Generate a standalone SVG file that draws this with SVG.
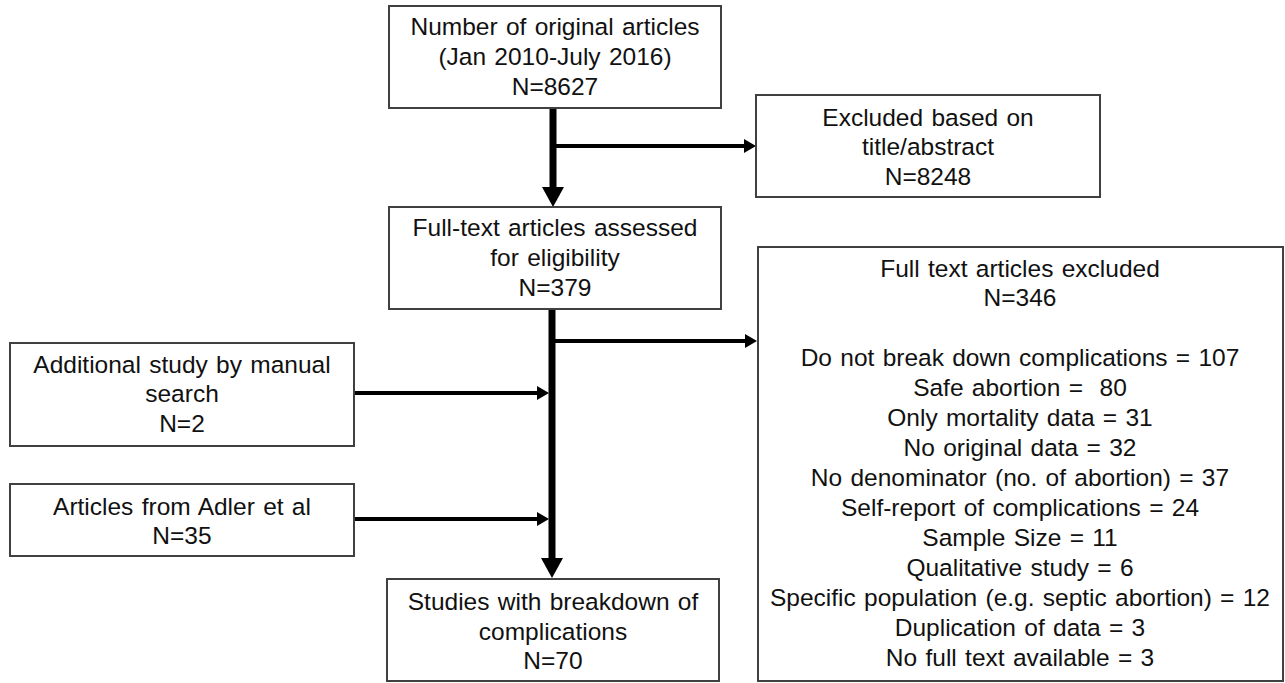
<svg xmlns="http://www.w3.org/2000/svg" width="1285" height="683" viewBox="0 0 1285 683">
  <style>
    .box { fill: #ffffff; stroke: #404040; stroke-width: 2; }
    .t { font-family: "Liberation Sans", Arial, sans-serif; font-size: 24.5px; word-spacing: 1.5px; fill: #111111; text-anchor: middle; }
    .thick { stroke: #000000; stroke-width: 7; fill: none; }
    .thin { stroke: #000000; stroke-width: 4; fill: none; }
  </style>
  <defs>
    <marker id="bigArrow" markerUnits="userSpaceOnUse" markerWidth="20" markerHeight="22" refX="0" refY="11" orient="auto">
      <path d="M0,0 L20,11 L0,22 z" fill="#000000"/>
    </marker>
    <marker id="smallArrow" markerUnits="userSpaceOnUse" markerWidth="12" markerHeight="14" refX="0" refY="7" orient="auto">
      <path d="M0,0 L12,7 L0,14 z" fill="#000000"/>
    </marker>
  </defs>
  <rect width="1285" height="683" fill="#ffffff"/>

  <g id="connectors">
    <path class="thick" d="M553,108 L553,187" marker-end="url(#bigArrow)"/>
    <path class="thin" d="M553,146 L744,146" marker-end="url(#smallArrow)"/>
    <path class="thick" d="M552,309 L552,558" marker-end="url(#bigArrow)"/>
    <path class="thin" d="M552,341 L745,341" marker-end="url(#smallArrow)"/>
    <path class="thin" d="M354,393 L537,393" marker-end="url(#smallArrow)"/>
    <path class="thin" d="M354,519 L537,519" marker-end="url(#smallArrow)"/>
  </g>

  <g id="original">
    <rect class="box" x="389" y="6" width="332" height="102"/>
    <text class="t" x="555" y="35">Number of original articles</text>
    <text class="t" x="555" y="65">(Jan 2010-July 2016)</text>
    <text class="t" x="555" y="95">N=8627</text>
  </g>

  <g id="excluded-title">
    <rect class="box" x="756" y="95" width="344" height="102"/>
    <text class="t" x="928" y="126">Excluded based on</text>
    <text class="t" x="928" y="155">title/abstract</text>
    <text class="t" x="928" y="185">N=8248</text>
  </g>

  <g id="fulltext">
    <rect class="box" x="389" y="207" width="332" height="102"/>
    <text class="t" x="555" y="236">Full-text articles assessed</text>
    <text class="t" x="555" y="266">for eligibility</text>
    <text class="t" x="555" y="296">N=379</text>
  </g>

  <g id="manual">
    <rect class="box" x="10" y="343" width="344" height="103"/>
    <text class="t" x="182" y="373">Additional study by manual</text>
    <text class="t" x="182" y="402">search</text>
    <text class="t" x="182" y="432">N=2</text>
  </g>

  <g id="adler">
    <rect class="box" x="10" y="484" width="344" height="72"/>
    <text class="t" x="182" y="515">Articles from Adler et al</text>
    <text class="t" x="182" y="544">N=35</text>
  </g>

  <g id="studies">
    <rect class="box" x="387" y="579" width="332" height="102"/>
    <text class="t" x="553" y="610">Studies with breakdown of</text>
    <text class="t" x="553" y="640">complications</text>
    <text class="t" x="553" y="669">N=70</text>
  </g>

  <g id="excluded-fulltext">
    <rect class="box" x="758" y="247" width="525" height="434"/>
    <text class="t" x="1020" y="277">Full text articles excluded</text>
    <text class="t" x="1020" y="306">N=346</text>
    <text class="t" x="1020" y="366">Do not break down complications = 107</text>
    <text class="t" x="1020" y="396" xml:space="preserve">Safe abortion =  80</text>
    <text class="t" x="1020" y="426">Only mortality data = 31</text>
    <text class="t" x="1020" y="456">No original data = 32</text>
    <text class="t" x="1020" y="486">No denominator (no. of abortion) = 37</text>
    <text class="t" x="1020" y="516">Self-report of complications = 24</text>
    <text class="t" x="1020" y="546">Sample Size = 11</text>
    <text class="t" x="1020" y="576">Qualitative study = 6</text>
    <text class="t" x="1020" y="606">Specific population (e.g. septic abortion) = 12</text>
    <text class="t" x="1020" y="636">Duplication of data = 3</text>
    <text class="t" x="1020" y="666">No full text available = 3</text>
  </g>
</svg>
